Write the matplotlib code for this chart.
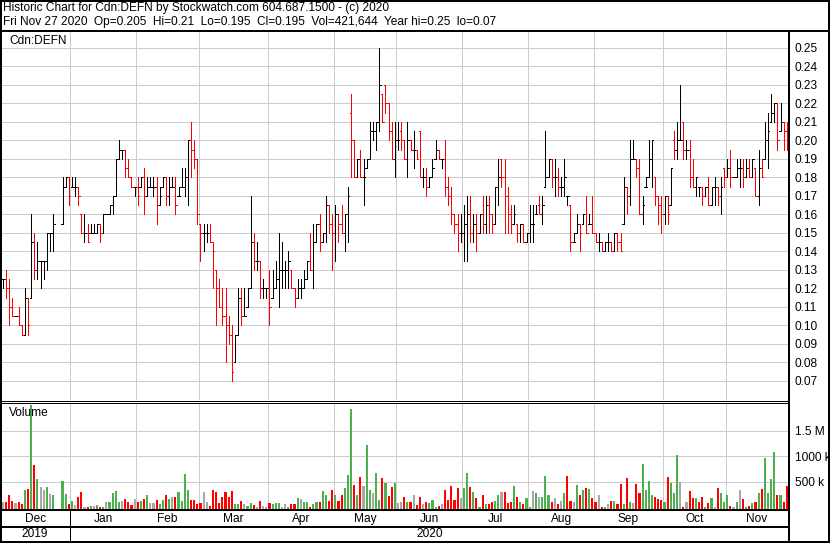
import matplotlib.pyplot as plt
from matplotlib.lines import Line2D

plt.rcParams['font.family'] = ['Liberation Sans', 'DejaVu Sans']

# === data: prices in cents, volume in thousands of shares ===
months = ['Dec', 'Jan', 'Feb', 'Mar', 'Apr', 'May', 'Jun', 'Jul', 'Aug', 'Sep', 'Oct', 'Nov']
month_bars = [22, 21, 20, 22, 21, 20, 21, 21, 21, 22, 20, 20]
years = ['2019', '2020']

high = [
    12.5, 13.0, 12.5, 11.5, 10.5, 11.0, 10.0, 12.0, 11.5, 16.0, 15.0, 14.5, 13.5, 13.5, 15.0, 15.0, 16.0, None, None, 18.0, 18.0, 18.0,  # Dec
    18.0, 18.0, 17.5, 16.0, 16.0, 15.5, 15.5, 15.5, 15.5, 15.5, 16.0, 16.0, 16.5, 17.0, 19.0, 20.0, 19.5, 19.5, 19.0, 18.0, 17.5,  # Jan
    18.0, 18.0, 18.5, 18.0, 18.0, 18.0, 18.0, 17.5, 18.0, 18.0, 18.0, 18.0, 18.0, 17.5, 18.5, 18.5, 20.0, 21.0, 20.0, 19.0,  # Feb
    15.5, 15.5, 15.5, 15.5, 14.5, 13.0, 12.5, 12.0, 12.0, 10.5, 10.0, 9.5, 12.0, 12.0, 12.0, 12.0, 17.0, 15.0, 14.5, 13.5, 12.5, 12.0,  # Mar
    13.0, 13.0, 13.5, 15.0, 14.5, 13.5, 14.0, 13.0, 12.0, 12.5, 12.5, 13.0, 13.5, 15.0, 15.5, 15.5, 16.0, 15.0, 17.0, 16.5, 16.0,  # Apr
    16.5, 16.0, 16.5, 16.0, 17.5, 22.5, 20.0, 19.0, 19.5, 19.0, 19.0, 21.0, 21.0, 21.0, 25.0, 22.5, 23.0, 22.0, 21.0, 21.0,  # May
    21.0, 21.0, 20.0, 21.0, 20.0, 20.5, 19.5, 20.5, 18.5, 18.5, 18.0, 19.0, 20.0, 19.5, 19.0, 20.0, 18.0, 17.5, 16.0, 16.0, 16.0,  # Jun
    16.5, 17.0, 17.0, 16.0, 16.0, 16.0, 17.0, 17.0, 17.0, 16.0, 17.5, 19.0, 19.0, 19.0, 17.5, 16.5, 16.5, 15.5, 15.5, 15.5, 15.0,  # Jul
    16.5, 16.5, 16.5, 17.0, 17.0, 20.5, 19.0, 19.0, 19.0, 18.5, 18.0, 19.0, 17.0, 16.5, 15.0, 16.0, 15.5, 16.0, 17.0, 16.0, 17.0,  # Aug
    15.0, 15.0, 14.5, 14.5, 15.0, 14.5, 15.0, 15.0, 15.0, 18.0, 17.5, 20.0, 20.0, 19.0, 19.0, 17.0, 18.0, 20.0, 20.0, 18.0, 17.0, 17.0,  # Sep
    17.0, 17.0, 18.5, 20.5, 21.0, 23.0, 21.0, 20.0, 20.0, 19.0, 18.0, 17.5, 17.5, 17.5, 18.0, 17.5, 18.0, 17.5, 18.0, 18.5,  # Oct
    19.0, 19.5, 18.0, 19.0, 19.0, 19.0, 19.0, 19.0, 19.0, 18.5, 19.5, 19.0, 21.0, 21.5, 22.5, 22.0, 22.0, 22.0, 21.0, 21.0,  # Nov
]
low = [
    12.0, 11.5, 10.0, 10.5, 10.5, 10.0, 9.5, 9.5, 9.5, 11.5, 12.5, 12.5, 12.0, 12.5, 13.0, 14.0, 14.0, None, None, 15.5, 17.5, 16.5,
    17.5, 17.0, 16.5, 15.0, 14.5, 14.5, 15.0, 15.0, 15.0, 14.5, 15.0, 16.0, 16.0, 16.0, 17.0, 19.0, 19.0, 18.0, 18.0, 17.5, 17.0,
    16.5, 17.5, 16.0, 17.0, 17.5, 17.0, 15.5, 16.5, 17.5, 16.5, 16.5, 17.5, 16.0, 17.0, 17.5, 17.0, 16.5, 18.0, 18.5, 15.5,
    13.5, 14.0, 14.5, 14.5, 12.0, 10.0, 11.0, 10.0, 8.0, 9.0, 7.0, 8.0, 9.5, 10.0, 10.5, 11.0, 12.0, 13.0, 13.0, 11.5, 11.5, 11.5,
    10.0, 11.5, 12.0, 11.0, 12.0, 12.0, 12.0, 12.0, 11.0, 11.5, 11.5, 12.0, 12.5, 13.0, 12.0, 14.5, 14.0, 14.5, 14.5, 15.0, 13.0,
    13.5, 14.5, 15.0, 14.0, 14.5, 18.0, 18.0, 18.0, 18.0, 16.5, 18.5, 19.0, 20.0, 19.5, 20.5, 21.0, 21.5, 20.0, 19.0, 18.0,
    19.5, 19.5, 19.0, 18.0, 19.5, 18.5, 19.0, 18.0, 17.5, 17.0, 17.5, 18.0, 19.0, 19.0, 18.5, 17.0, 16.5, 15.5, 15.0, 14.0, 14.5,
    13.5, 13.5, 14.5, 14.5, 14.0, 15.0, 15.0, 15.0, 15.0, 15.0, 15.5, 16.5, 17.5, 15.0, 15.0, 15.0, 15.5, 14.5, 14.5, 14.5, 14.5,
    14.5, 14.5, 16.0, 16.0, 15.5, 17.5, 18.0, 17.5, 17.0, 17.0, 17.0, 17.0, 16.5, 14.0, 14.5, 15.0, 14.0, 15.5, 15.0, 15.5, 15.0,
    14.5, 14.0, 14.0, 14.0, 14.0, 14.0, 14.0, 14.0, 14.0, 15.5, 16.0, 16.5, 19.0, 18.0, 16.0, 15.5, 17.5, 18.0, 17.5, 16.5, 15.5, 15.0,
    15.5, 15.5, 16.5, 19.0, 19.0, 20.0, 19.0, 19.0, 17.5, 17.5, 17.0, 17.0, 16.5, 17.0, 16.5, 16.5, 16.5, 16.5, 16.0, 17.5,
    18.0, 17.5, 18.0, 18.0, 17.5, 17.5, 18.0, 18.0, 18.0, 17.0, 16.5, 18.0, 19.0, 18.5, 21.0, 21.0, 19.5, 20.5, 19.5, 19.5,
]
close = [
    12.5, 12.0, 11.0, 10.5, 10.5, 10.0, 9.5, 11.5, 10.0, 14.5, 13.0, 13.5, 13.5, 13.5, 15.0, 15.0, 15.5, None, None, 17.5, 18.0, 17.0,
    17.5, 17.5, 17.0, 15.0, 15.0, 14.5, 15.0, 15.0, 15.5, 15.0, 16.0, 16.0, 16.5, 17.0, 19.0, 19.5, 19.5, 18.5, 18.0, 17.5, 17.5,
    17.0, 18.0, 17.0, 17.5, 17.5, 17.5, 16.5, 17.0, 18.0, 17.0, 17.5, 17.5, 16.5, 17.0, 17.5, 18.0, 20.0, 19.5, 19.0, 16.0,
    15.0, 15.0, 15.0, 14.5, 14.0, 12.0, 11.0, 10.5, 10.0, 9.5, 7.5, 9.5, 11.5, 10.5, 10.5, 12.0, 14.5, 13.5, 13.5, 12.0, 12.0, 12.0,
    11.0, 12.0, 12.5, 13.0, 13.0, 13.0, 13.5, 12.0, 11.5, 12.0, 12.0, 12.5, 13.5, 13.0, 14.5, 15.5, 14.5, 15.0, 16.5, 15.5, 15.0,
    16.0, 15.5, 15.0, 16.0, 17.0, 20.0, 18.0, 19.0, 18.0, 18.0, 19.0, 20.5, 20.5, 21.0, 23.0, 21.0, 22.0, 20.5, 19.0, 20.0,
    20.0, 20.0, 19.0, 20.0, 19.5, 19.5, 19.0, 18.0, 18.0, 17.5, 18.0, 18.5, 19.5, 19.0, 19.0, 17.5, 17.0, 16.0, 15.5, 15.0, 15.0,
    15.5, 16.0, 15.0, 15.5, 15.0, 16.0, 15.5, 16.5, 16.0, 15.5, 17.5, 18.0, 18.0, 17.0, 16.0, 15.5, 16.0, 15.0, 15.5, 14.5, 15.0,
    15.5, 15.5, 16.0, 16.0, 16.5, 18.0, 19.0, 18.0, 18.0, 17.5, 17.5, 18.0, 17.0, 14.5, 14.5, 15.5, 15.0, 16.0, 15.0, 15.5, 15.0,
    14.5, 14.5, 14.0, 14.5, 14.5, 14.0, 15.0, 14.5, 14.0, 17.5, 17.0, 19.0, 19.0, 18.5, 16.0, 16.5, 17.5, 19.0, 20.0, 17.0, 16.5, 16.0,
    17.0, 16.0, 18.5, 19.5, 20.0, 20.0, 19.5, 19.5, 18.0, 17.5, 18.0, 17.5, 17.0, 17.5, 16.5, 17.5, 17.5, 17.0, 17.5, 18.0,
    18.5, 18.0, 18.0, 18.5, 18.5, 18.0, 18.5, 18.0, 19.0, 17.0, 18.5, 18.0, 20.0, 20.5, 21.5, 22.0, 20.0, 21.0, 20.5, 19.5,
]
opens = [
    12.5, 12.5, 12.0, 11.0, 10.5, 10.5, 10.0, 9.5, 11.5, 11.5, 14.5, 13.0, 13.5, 13.5, 13.5, 15.0, 15.0, None, None, 15.5, 17.5, 18.0,
    17.5, 17.5, 17.5, 16.0, 15.0, 15.0, 15.0, 15.0, 15.0, 15.5, 15.0, 16.0, 16.0, 16.5, 17.0, 19.0, 19.5, 19.5, 18.5, 18.0, 17.5,
    17.5, 17.5, 18.0, 17.0, 17.5, 17.5, 17.5, 16.5, 17.5, 18.0, 17.0, 17.5, 17.5, 17.0, 17.5, 17.5, 18.0, 20.0, 19.5, 19.0,
    15.5, 15.0, 15.0, 15.0, 14.5, 13.0, 12.0, 11.0, 10.5, 10.0, 9.5, 8.0, 9.5, 11.5, 10.5, 11.0, 12.0, 14.5, 13.5, 13.5, 12.0, 12.0,
    12.0, 11.5, 12.0, 12.5, 13.0, 13.0, 13.0, 13.0, 12.0, 11.5, 12.0, 12.0, 12.5, 13.5, 13.0, 14.5, 15.5, 14.5, 15.0, 16.5, 15.5,
    15.0, 16.0, 15.5, 15.0, 16.0, 21.5, 20.0, 18.0, 19.0, 18.0, 18.5, 19.0, 20.5, 20.5, 21.0, 22.5, 23.0, 22.0, 20.5, 19.0,
    20.0, 20.5, 20.0, 19.0, 20.0, 19.5, 19.5, 20.5, 18.0, 18.0, 17.5, 18.0, 19.0, 19.5, 19.0, 19.0, 17.5, 17.0, 16.0, 15.5, 15.0,
    15.0, 15.5, 16.0, 15.0, 15.5, 15.0, 16.0, 15.5, 16.5, 16.0, 15.5, 17.5, 19.0, 18.0, 17.0, 16.0, 15.5, 15.5, 15.0, 15.5, 14.5,
    15.0, 15.5, 16.0, 16.5, 16.0, 17.5, 18.0, 19.0, 18.0, 18.0, 17.5, 17.5, 17.0, 16.5, 14.5, 15.0, 15.5, 15.5, 16.0, 15.5, 15.5,
    15.0, 14.5, 14.5, 14.0, 14.5, 14.5, 14.0, 15.0, 14.5, 15.5, 17.5, 17.0, 19.0, 19.0, 18.5, 16.0, 17.5, 18.0, 19.0, 18.0, 17.0, 16.5,
    16.0, 17.0, 16.5, 20.0, 19.5, 20.0, 21.0, 19.5, 19.5, 18.0, 17.5, 17.5, 17.5, 17.0, 17.5, 16.5, 17.5, 17.5, 17.0, 18.5,
    18.0, 18.5, 18.0, 18.0, 18.5, 18.5, 18.0, 18.5, 18.0, 18.5, 17.0, 18.5, 19.0, 20.0, 21.0, 21.5, 22.0, 20.5, 21.0, 20.5,
]
volume = [
    115, 115, 256, 128, 83, 103, 64, 353, 372, 1987, 833, 564, 410, 353, 410, 263, 237, 0, 0, 525, 263, 64,
    135, 45, 212, 314, 19, 19, 38, 38, 58, 19, 19, 115, 109, 276, 333, 109, 135, 160, 109, 45, 160,
    115, 128, 167, 237, 96, 83, 141, 64, 141, 256, 160, 199, 199, 314, 122, 660, 353, 141, 141, 64,
    83, 314, 103, 38, 353, 314, 83, 212, 314, 212, 333, 64, 64, 135, 64, 38, 83, 45, 19, 135, 38, 19,
    83, 64, 83, 83, 19, 64, 19, 64, 64, 179, 160, 115, 115, 19, 64, 115, 115, 333, 237, 135, 353,
    237, 135, 256, 391, 641, 1910, 449, 237, 603, 430, 1218, 353, 295, 680, 141, 583, 487, 218, 410, 487,
    83, 115, 199, 115, 115, 237, 45, 212, 64, 115, 83, 147, 19, 38, 64, 353, 147, 430, 147, 391, 179,
    391, 680, 410, 314, 179, 19, 237, 64, 64, 115, 122, 256, 314, 314, 83, 115, 430, 199, 115, 64, 179,
    19, 333, 276, 199, 199, 622, 237, 115, 179, 64, 135, 295, 622, 135, 115, 449, 237, 353, 391, 372, 179,
    115, 256, 19, 19, 64, 135, 135, 64, 468, 64, 583, 115, 96, 468, 295, 853, 353, 525, 237, 212, 160, 147,
    115, 603, 487, 295, 1026, 506, 19, 103, 333, 179, 179, 115, 212, 19, 83, 179, 19, 391, 276, 115,
    256, 38, 19, 115, 353, 160, 19, 38, 83, 115, 295, 372, 968, 295, 564, 1077, 256, 237, 103, 422,
]

price_ticks = [7, 8, 9, 10, 11, 12, 13, 14, 15, 16, 17, 18, 19, 20, 21, 22, 23, 24, 25]
vol_ticks = [500, 1000, 1500]
vol_labels = ['500 k', '1000 k', '1.5 M']

n = sum(month_bars)
assert len(high) == len(low) == len(close) == len(opens) == len(volume) == n

# === figure layout in pixels ===
W, H = 830, 543
fig = plt.figure(figsize=(W / 100, H / 100), dpi=100)
fig.patch.set_facecolor('white')
fs = 8.6


def box(x0, y0, x1, y1):
    return [x0 / W, 1 - y1 / H, (x1 - x0) / W, (y1 - y0) / H]


def line(xa, ya, xb, yb, w):
    fig.add_artist(Line2D([xa / W, xb / W], [1 - ya / H, 1 - yb / H], color='black',
                          lw=w * 0.72, transform=fig.transFigure, solid_capstyle='butt',
                          antialiased=False, zorder=10))


grid = '#cccccc'
red = '#ff0000'
green = '#4caf50'
gray = '#a8a8a8'

ax = fig.add_axes(box(2, 32, 789, 400))
axv = fig.add_axes(box(2, 403, 789, 510))

bounds = []
s = 0
for m in month_bars[:-1]:
    s += m
    bounds.append(s - 0.5)
centers = []
s = 0
for m in month_bars:
    centers.append(s + m / 2 - 0.5)
    s += m

for a in (ax, axv):
    a.set_xlim(-0.3, n - 0.3)
    for sp in a.spines.values():
        sp.set_visible(False)
    a.yaxis.tick_right()
    a.tick_params(axis='y', length=0, pad=4.2, labelsize=fs, labelcolor='black')
    for b in bounds:
        a.axvline(b, color=grid, lw=0.72, zorder=0, antialiased=False)

# === price panel ===
ax.set_ylim(5.97, 25.865)
ax.set_yticks(price_ticks)
ax.set_yticklabels(['%.2f' % (p / 100) for p in price_ticks])
ax.set_xticks([])
for p in price_ticks:
    ax.axhline(p, color=grid, lw=0.72, zorder=0, antialiased=False)

xs = [i for i in range(n) if close[i] is not None]
cols = [red if close[i] < opens[i] else 'black' for i in xs]
ax.vlines(xs, [low[i] for i in xs], [high[i] for i in xs], colors=cols, lw=0.72, antialiased=False)
ax.hlines([opens[i] for i in xs], [i - 0.45 for i in xs], xs, colors=cols, lw=0.72, antialiased=False)
ax.hlines([close[i] for i in xs], xs, [i + 0.45 for i in xs], colors=cols, lw=0.72, antialiased=False)

# === volume panel ===
vlo, vhi = -45, 2035
axv.set_ylim(vlo, vhi)
axv.set_yticks(vol_ticks)
axv.set_yticklabels(vol_labels)
for v in vol_ticks:
    axv.axhline(v, color=grid, lw=0.72, zorder=0, antialiased=False)

vcols = []
prev = None
for i in xs:
    if prev is None or close[i] == prev:
        vcols.append(gray)
    elif close[i] > prev:
        vcols.append(green)
    else:
        vcols.append(red)
    prev = close[i]
axv.bar(xs, [volume[i] - vlo for i in xs], bottom=vlo, width=0.68, color=vcols,
        linewidth=0, antialiased=False)

axv.set_xticks(centers)
axv.set_xticklabels(months)
axv.tick_params(axis='x', length=0, pad=2.2, labelsize=fs, labelcolor='black')

# === texts ===
fig.text(3 / W, 1 - 8 / H, 'Historic Chart for Cdn:DEFN by Stockwatch.com 604.687.1500 - (c) 2020',
         fontsize=fs, va='center', ha='left')
fig.text(3 / W, 1 - 22 / H,
         'Fri Nov 27 2020  Op=0.205  Hi=0.21  Lo=0.195  Cl=0.195  Vol=421,644  Year hi=0.25  lo=0.07',
         fontsize=fs, va='center', ha='left')
fig.text(9 / W, 1 - 41 / H, 'Cdn:DEFN', fontsize=fs, va='center', ha='left')
fig.text(9 / W, 1 - 413 / H, 'Volume', fontsize=fs, va='center', ha='left')

yx = [0, 69.5, 789]
for k, yl in enumerate(years):
    fig.text((yx[k] + yx[k + 1]) / 2 / W, 1 - 534 / H, yl, fontsize=fs, va='center', ha='center')

# === frame lines ===
line(0, 1, 830, 1, 2)
line(0, 30.5, 830, 30.5, 2)
line(1, 0, 1, 543, 2)
line(829, 0, 829, 543, 2)
line(0, 541.5, 830, 541.5, 3)
line(789, 30, 789, 543, 2)
line(0, 400.5, 789, 400.5, 1)
line(0, 402.5, 789, 402.5, 1)
line(0, 510, 789, 510, 2)
line(0, 527, 789, 527, 2)
line(69.5, 510, 69.5, 541, 1)

fig.savefig('out.png', dpi=100)
